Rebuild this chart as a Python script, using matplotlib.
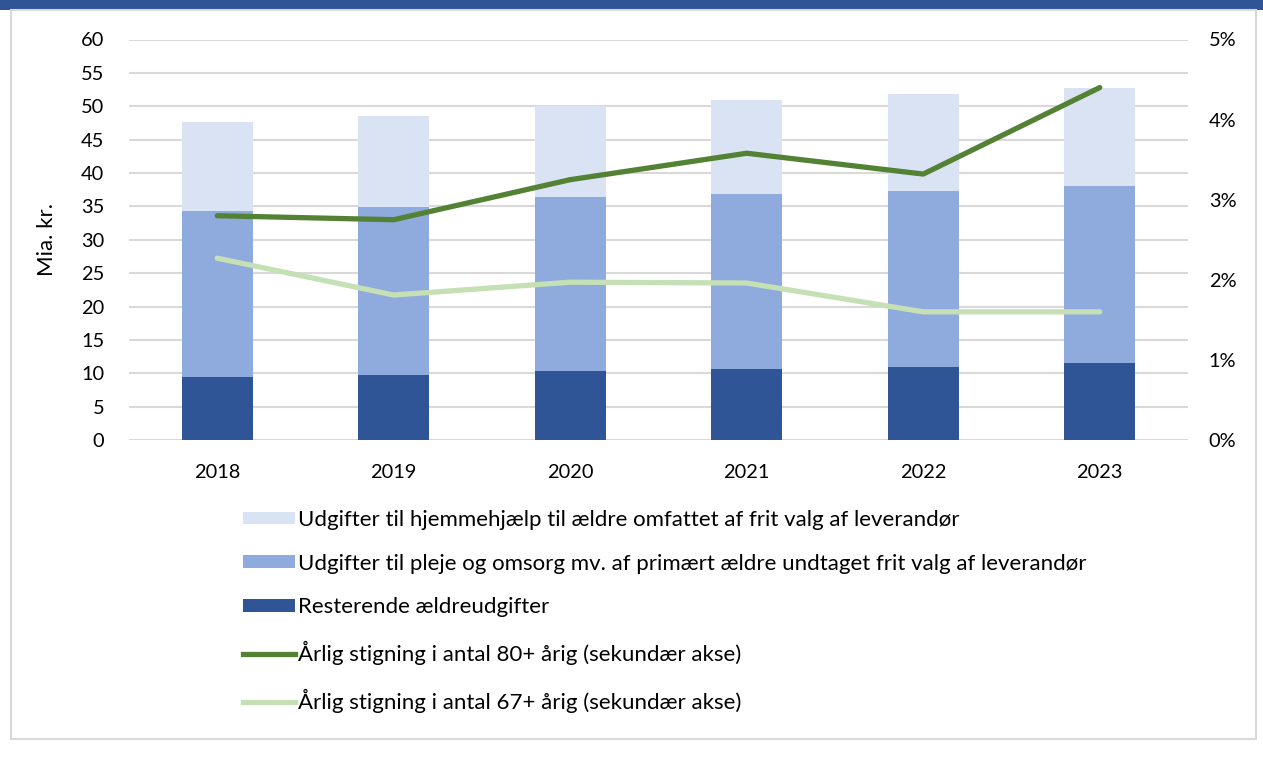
import matplotlib
matplotlib.use("Agg")
import matplotlib.pyplot as plt
from matplotlib.patches import Rectangle, Patch
from matplotlib.lines import Line2D
import numpy as np

years = ["2018", "2019", "2020", "2021", "2022", "2023"]
rest = [9.5, 9.7, 10.4, 10.6, 11.0, 11.6]
pleje = [24.8, 25.2, 26.0, 26.2, 26.3, 26.4]
hjemmehjaelp = [13.4, 13.6, 13.7, 14.1, 14.6, 14.7]
growth80 = [2.80, 2.75, 3.25, 3.58, 3.32, 4.40]
growth67 = [2.27, 1.81, 1.97, 1.96, 1.60, 1.60]

labels = [
    "Udgifter til hjemmehjælp til ældre omfattet af frit valg af leverandør",
    "Udgifter til pleje og omsorg mv. af primært ældre undtaget frit valg af leverandør",
    "Resterende ældreudgifter",
    "Årlig stigning i antal 80+ årig (sekundær akse)",
    "Årlig stigning i antal 67+ årig (sekundær akse)",
]

c_dark = "#2F5597"
c_mid = "#8FAADC"
c_light = "#DAE3F3"
c_g1 = "#548235"
c_g2 = "#C5E0B4"
c_grid = "#D9D9D9"

plt.rcParams['font.family'] = ['Lato', 'DejaVu Sans']
fs_tick = 14.4
fs_leg = 16.0

W, H = 1263, 769
fig = plt.figure(figsize=(W / 100, H / 100), dpi=100)

# top band and frame
fig.patches.append(Rectangle((0, 1 - 10 / H), 1, 10 / H, transform=fig.transFigure,
                             facecolor=c_dark, edgecolor="none", zorder=0))
fig.patches.append(Rectangle((11 / W, 1 - 739 / H), (1256 - 11) / W, (739 - 10) / H,
                             transform=fig.transFigure, facecolor="none",
                             edgecolor=c_grid, lw=1.5, zorder=0))

ax = fig.add_axes([129 / W, 1 - 440 / H, (1188 - 129) / W, (440 - 39.5) / H])
x = np.arange(len(years))
bw = 0.4
rest_a = np.array(rest)
pleje_a = np.array(pleje)
hj_a = np.array(hjemmehjaelp)
ax.bar(x, rest_a, width=bw, color=c_dark, zorder=2)
ax.bar(x, pleje_a, width=bw, bottom=rest_a, color=c_mid, zorder=2)
ax.bar(x, hj_a, width=bw, bottom=rest_a + pleje_a, color=c_light, zorder=2)

ax.set_xlim(-0.5, len(years) - 0.5)
ax.set_ylim(0, 60)
ax.set_yticks(np.arange(0, 61, 5))
ax.set_xticks(x)
ax.set_xticklabels(years)
ax.grid(axis="y", color=c_grid, lw=1.5, zorder=0)
ax.set_axisbelow(True)
for s in ax.spines.values():
    s.set_visible(False)
ax.tick_params(axis="both", length=0, labelsize=fs_tick, colors="black")
ax.tick_params(axis="y", pad=18)
ax.tick_params(axis="x", pad=17)
ax.set_ylabel("Mia. kr.", fontsize=fs_leg)
ax.yaxis.set_label_coords(-0.068, 0.5)

ax2 = ax.twinx()
ax2.plot(x, growth80, color=c_g1, lw=3.8, solid_capstyle="round", zorder=3)
ax2.plot(x, growth67, color=c_g2, lw=3.8, solid_capstyle="round", zorder=3)
ax2.set_ylim(0, 5)
ax2.set_yticks(np.arange(0, 6, 1))
ax2.set_yticklabels([f"{v}%" for v in range(6)])
for s in ax2.spines.values():
    s.set_visible(False)
ax2.tick_params(axis="y", length=0, labelsize=fs_tick, pad=15)

handles = [
    Patch(facecolor=c_light, edgecolor="none"),
    Patch(facecolor=c_mid, edgecolor="none"),
    Patch(facecolor=c_dark, edgecolor="none"),
    Line2D([0], [0], color=c_g1, lw=3.8),
    Line2D([0], [0], color=c_g2, lw=3.8),
]
fig.legend(handles, labels, loc="upper left", bbox_to_anchor=(234 / W, 1 - 501 / H),
           frameon=False, fontsize=fs_leg, handlelength=2.35, handleheight=0.5,
           handletextpad=0.15, labelspacing=1.07, borderaxespad=0)

fig.savefig("out.png", dpi=100)
